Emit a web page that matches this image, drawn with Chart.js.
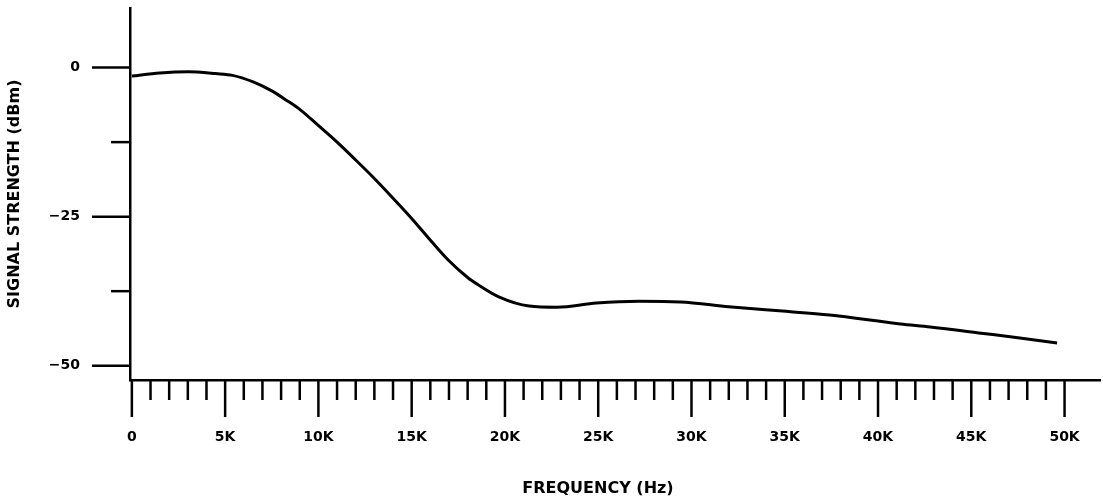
<!DOCTYPE html>
<html>
<head>
<meta charset="utf-8">
<script src="https://cdn.jsdelivr.net/npm/chart.js@4"></script>
<style>
  html, body { margin: 0; padding: 0; background: #fff; }
  #wrap { width: 1103px; height: 498px; }
</style>
</head>
<body>
<div id="wrap"><canvas id="c" width="1103" height="498"></canvas></div>
<script>
// ---- data ----
const freqK = [0, 1.5, 3, 4.5, 5.4, 6.5, 7.5, 8.3, 9.0, 10.1, 11.0, 12.0, 13.0, 14.0, 15.0, 16.1, 17.0, 18.0, 18.6, 19.7, 21.3, 22.8, 24.9, 27.2, 29.4, 32.0, 34.7, 37.4, 41.2, 42.8, 45.4, 47.5, 49.6];
const signalDb = [-1.4, -0.9, -0.7, -1.0, -1.3, -2.4, -3.9, -5.5, -7.0, -10.0, -12.5, -15.5, -18.6, -21.9, -25.3, -29.3, -32.4, -35.2, -36.5, -38.5, -40.0, -40.2, -39.5, -39.2, -39.3, -40.1, -40.8, -41.5, -43.0, -43.5, -44.5, -45.3, -46.2];

const xTickValues = [];
for (let k = 0; k <= 50; k++) xTickValues.push(k);
const xLabelValues = [0, 5, 10, 15, 20, 25, 30, 35, 40, 45, 50];
const xLabels = ['0', '5K', '10K', '15K', '20K', '25K', '30K', '35K', '40K', '45K', '50K'];

const yTickValues = [0, -12.5, -25, -37.5, -50];
const yLabelValues = [0, -25, -50];
const yLabels = ['0', '\u221225', '\u221250'];

const FONT = '"DejaVu Sans", Verdana, sans-serif';

const tickPlugin = {
  id: 'handTicks',
  afterDraw(chart) {
    const ctx = chart.ctx;
    const xs = chart.scales.x, ys = chart.scales.y;
    const area = chart.chartArea;
    ctx.save();
    ctx.strokeStyle = '#000';
    ctx.lineWidth = 2.5;
    ctx.lineCap = 'butt';
    xTickValues.forEach(v => {
      const px = xs.getPixelForValue(v);
      const len = (v % 5 === 0) ? 37 : 20;
      ctx.beginPath();
      ctx.moveTo(px, area.bottom);
      ctx.lineTo(px, area.bottom + len);
      ctx.stroke();
    });
    yTickValues.forEach(v => {
      const py = ys.getPixelForValue(v);
      const len = (v % 25 === 0) ? 38 : 19;
      ctx.beginPath();
      ctx.moveTo(area.left - len, py);
      ctx.lineTo(area.left, py);
      ctx.stroke();
    });
    ctx.restore();
  }
};

function shiftXTitle(s) {
  if (s._titleShifted) return;
  s._titleShifted = true;
  const orig = s.drawTitle;
  s.drawTitle = function () {
    const l = this.left;
    this.left = l - 34;
    orig.apply(this, arguments);
    this.left = l;
  };
}

new Chart(document.getElementById('c'), {
  type: 'line',
  data: {
    datasets: [{
      data: freqK.map((f, i) => ({ x: f, y: signalDb[i] })),
      borderColor: '#000',
      borderWidth: 3,
      pointRadius: 0,
      fill: false,
      cubicInterpolationMode: 'monotone'
    }]
  },
  options: {
    responsive: false,
    animation: false,
    devicePixelRatio: 1,
    layout: { padding: { top: 8, right: 3, left: 0, bottom: 0 } },
    plugins: { legend: { display: false }, tooltip: { enabled: false } },
    scales: {
      x: {
        type: 'linear',
        min: -0.1,
        max: 51.9,
        afterBuildTicks: s => { s.ticks = xLabelValues.map(v => ({ value: v })); },
        afterFit: s => { s.height = 118; s.paddingLeft = 0; s.paddingRight = 0; shiftXTitle(s); },
        grid: { display: true, drawOnChartArea: false, drawTicks: true, tickLength: 47, tickColor: 'rgba(0,0,0,0)' },
        border: { display: true, color: '#000', width: 2.5 },
        ticks: {
          padding: 2,
          color: '#000',
          maxRotation: 0,
          autoSkip: false,
          font: { family: FONT, size: 14, weight: 'bold' },
          callback: v => { const i = xLabelValues.indexOf(v); return i >= 0 ? xLabels[i] : ''; }
        },
        title: {
          display: true,
          text: 'FREQUENCY (Hz)',
          color: '#000',
          padding: { top: 0, bottom: 0 },
          font: { family: FONT, size: 16, weight: 'bold' }
        }
      },
      y: {
        type: 'linear',
        min: -52.4,
        max: 10,
        afterBuildTicks: s => { s.ticks = yLabelValues.map(v => ({ value: v })); },
        afterFit: s => { s.width = 130; s.paddingTop = 0; s.paddingBottom = 0; },
        grid: { display: true, drawOnChartArea: false, drawTicks: true, tickLength: 48, tickColor: 'rgba(0,0,0,0)' },
        border: { display: true, color: '#000', width: 2.5 },
        ticks: {
          padding: 2,
          color: '#000',
          autoSkip: false,
          font: { family: FONT, size: 14, weight: 'bold' },
          callback: v => { const i = yLabelValues.indexOf(v); return i >= 0 ? yLabels[i] : ''; }
        },
        title: {
          display: true,
          text: 'SIGNAL STRENGTH (dBm)',
          color: '#000',
          padding: { top: 5, bottom: 0 },
          font: { family: FONT, size: 16, weight: 'bold' }
        }
      }
    }
  },
  plugins: [tickPlugin]
});
</script>
</body>
</html>
